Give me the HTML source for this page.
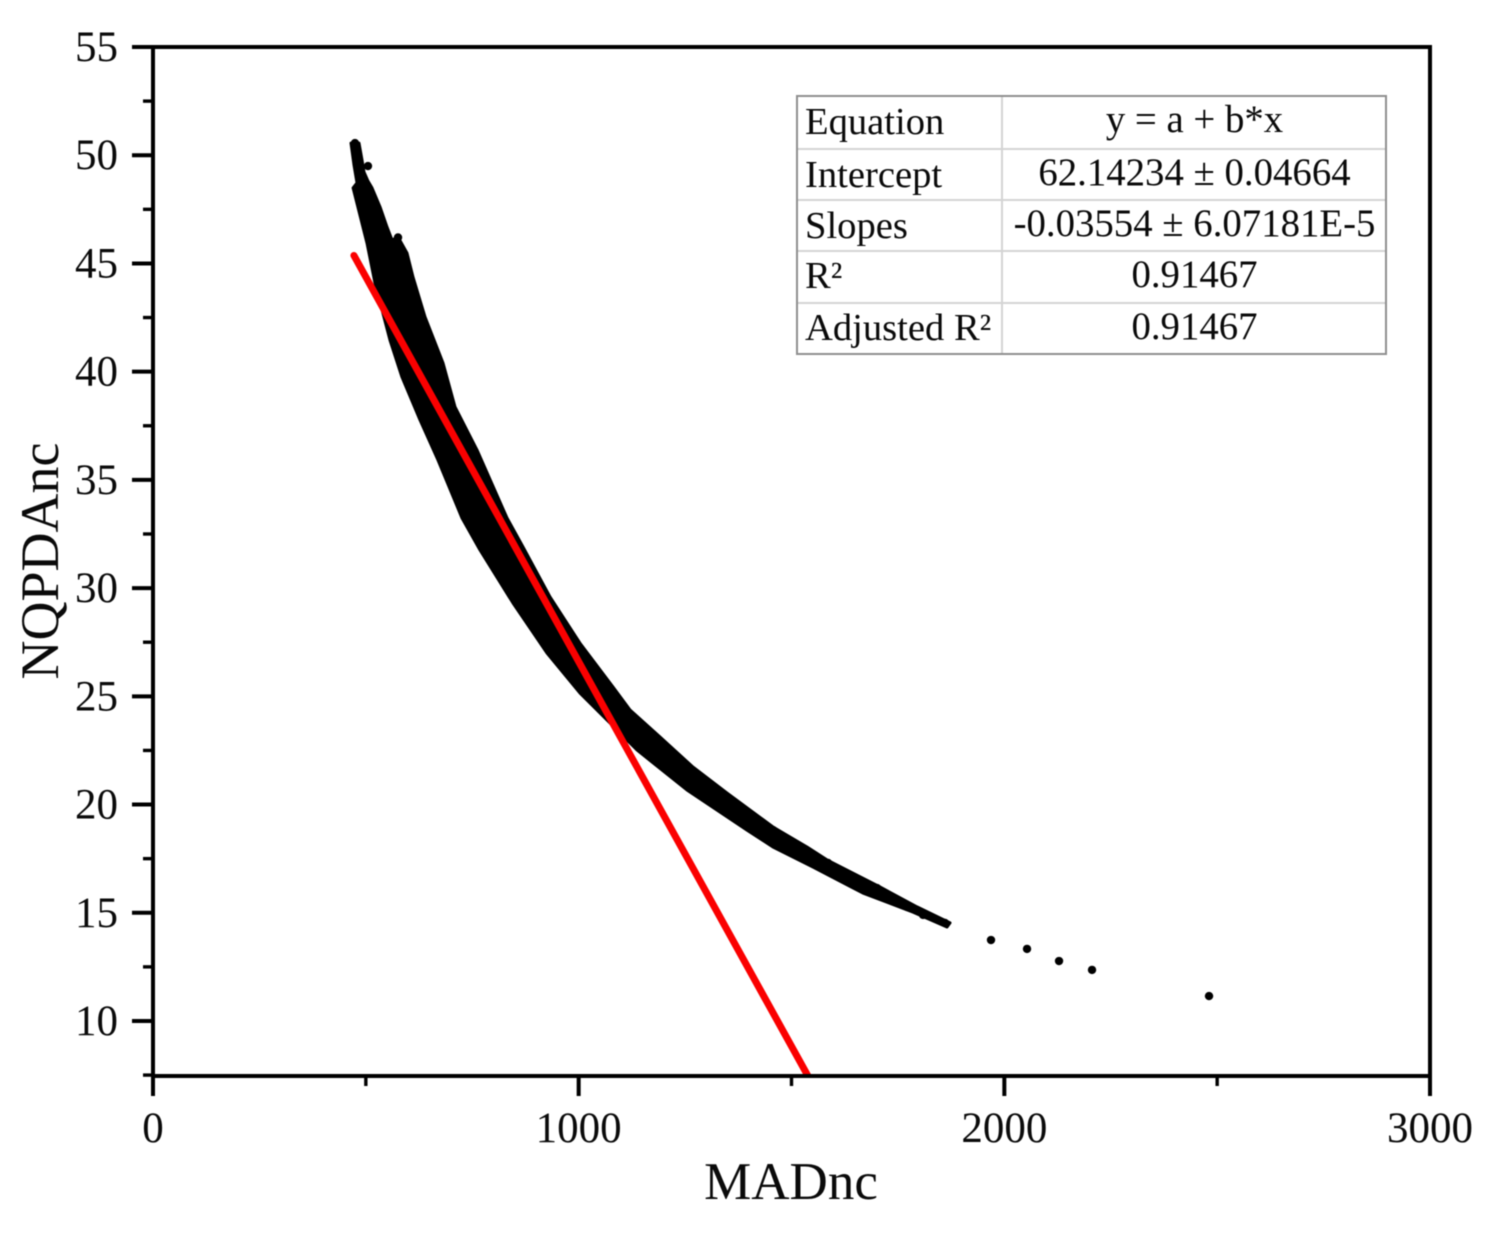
<!DOCTYPE html>
<html lang="en">
<head>
<meta charset="utf-8">
<title>NQPDAnc vs MADnc</title>
<style>
html,body{margin:0;padding:0;background:#fff;width:1499px;height:1233px;overflow:hidden}
svg{display:block;filter:blur(0.45px)}
text{font-family:"Liberation Serif","Times New Roman",serif;fill:#0a0a0a}
</style>
</head>
<body>
<svg id="chart" xmlns="http://www.w3.org/2000/svg" width="1499" height="1233" viewBox="0 0 1499 1233">
  <rect x="0" y="0" width="1499" height="1233" fill="#fff"/>
  <defs><clipPath id="plot-clip"><rect x="153" y="47" width="1277" height="1029"/></clipPath></defs>
  <g id="marks"></g>
  <g id="axes"></g>
  <text x="791" y="1199" font-size="53" text-anchor="middle">MADnc</text>
  <text transform="translate(58,561) rotate(-90)" font-size="54" text-anchor="middle">NQPDAnc</text>
  <g>
    <rect x="797" y="96" width="589" height="258" fill="#fff"/>
    <g stroke="#d4d4d4" stroke-width="2">
      <line x1="797" x2="1386" y1="149" y2="149"/>
      <line x1="797" x2="1386" y1="200" y2="200"/>
      <line x1="797" x2="1386" y1="251" y2="251"/>
      <line x1="797" x2="1386" y1="303" y2="303"/>
      <line x1="1002" x2="1002" y1="96" y2="354"/>
    </g>
    <rect x="797" y="96" width="589" height="258" fill="none" stroke="#8f8f8f" stroke-width="2"/>
    <g font-size="38.6">
      <text x="805" y="134">Equation</text>
      <text x="805" y="187">Intercept</text>
      <text x="805" y="238">Slopes</text>
      <text x="805" y="288">R²</text>
      <text x="805" y="340">Adjusted R²</text>
    </g>
    <g font-size="38.8" text-anchor="middle">
      <text x="1194.5" y="132">y = a + b*x</text>
      <text x="1194.5" y="185">62.14234 ± 0.04664</text>
      <text x="1194.5" y="236">-0.03554 ± 6.07181E-5</text>
      <text x="1194.5" y="287">0.91467</text>
      <text x="1194.5" y="339">0.91467</text>
    </g>
  </g>
</svg>
<script>
// Axis tick values
const xMajorTicks = [0, 1000, 2000, 3000];
const xMinorTicks = [500, 1500, 2500];
const yMajorTicks = [10, 15, 20, 25, 30, 35, 40, 45, 50, 55];
const yMinorTicks = [7.5, 12.5, 17.5, 22.5, 27.5, 32.5, 37.5, 42.5, 47.5, 52.5];

// Dense point cloud envelope, upper edge (MADnc, NQPDAnc)
const upperMad = [484, 491, 495.7, 505, 514.5, 533.3, 549.7, 561.5, 575.6, 596.7, 610.8, 639, 681.3, 709.5, 761.2, 831.7, 869.2, 932.7, 1003, 1080.7, 1120.6, 1191, 1268.6, 1348.5, 1456.6, 1536.4, 1583.4, 1707.9, 1794.9, 1872.4];
const upperNqpda = [50.56, 49.78, 49.22, 48.8, 48.49, 47.61, 46.68, 46.08, 46.22, 45.48, 44.37, 42.53, 40.4, 38.37, 36.38, 33.24, 31.9, 29.59, 27.46, 25.43, 24.37, 23.12, 21.73, 20.53, 18.96, 18.04, 17.44, 16.19, 15.27, 14.53];

// Dense point cloud envelope, lower edge (MADnc, NQPDAnc)
const lowerMad = [465.2, 472.2, 479.2, 470, 502.7, 521.5, 556.8, 585, 627.3, 669.5, 726, 768.2, 845.7, 925.6, 1003.2, 1073.6, 1137, 1254.5, 1395.5, 1456.6, 1550.5, 1668, 1785.4, 1865.3];
const lowerNqpda = [50.56, 49.55, 48.72, 48.49, 45.94, 44.1, 41.46, 39.75, 37.77, 35.92, 33.24, 31.76, 29.31, 27, 25.15, 23.77, 22.52, 20.67, 18.82, 18.04, 17.11, 15.91, 15.03, 14.34];

// Individually visible points
const pointMad = [474.5, 505, 575.6, 1456.6, 1489.5, 1531.7, 1585.8, 1625.7, 1700.9, 1724.4, 1771.4, 1809, 1860.6, 1968.7, 2053.3, 2128.5, 2206, 2480.9];
const pointNqpda = [50.56, 49.5, 46.2, 18.82, 18.27, 17.81, 17.3, 16.74, 16.14, 15.68, 15.27, 14.9, 14.53, 13.74, 13.33, 12.77, 12.36, 11.15];

// Linear fit
const fitIntercept = 62.14234;
const fitSlope = -0.03554;
const fitRange = [472, 1570];

const svgNS = 'http://www.w3.org/2000/svg';
const xScale = v => 153 + (v / 3000) * 1277;
const yScale = v => 47 + (55 - v) * 21.644;
const marks = document.getElementById('marks');
const axes = document.getElementById('axes');

function make(tag, attrs, parent) {
  const el = document.createElementNS(svgNS, tag);
  Object.keys(attrs).forEach(k => el.setAttribute(k, attrs[k]));
  parent.appendChild(el);
  return el;
}

// Point cloud envelope
const outline = [];
upperMad.forEach((m, i) => outline.push(xScale(m).toFixed(1) + ',' + yScale(upperNqpda[i]).toFixed(1)));
for (let i = lowerMad.length - 1; i >= 0; i--) {
  outline.push(xScale(lowerMad[i]).toFixed(1) + ',' + yScale(lowerNqpda[i]).toFixed(1));
}
const cloud = make('polygon', {points: outline.join(' '), fill: '#000', stroke: '#000', 'stroke-width': 3, 'stroke-linejoin': 'round'}, marks);



// Individual points
pointMad.forEach((m, i) => {
  const dot = make('circle', {cx: xScale(m), cy: yScale(pointNqpda[i]), r: 4.2, fill: '#000'}, marks);
  
  
});

// Fit line
const fitGroup = make('g', {'clip-path': 'url(#plot-clip)'}, marks);


const fitLine = make('line', {
  x1: xScale(fitRange[0]), y1: yScale(fitIntercept + fitSlope * fitRange[0]),
  x2: xScale(fitRange[1]), y2: yScale(fitIntercept + fitSlope * fitRange[1]),
  stroke: '#fa0000', 'stroke-width': 7, 'stroke-linecap': 'round'
}, fitGroup);



// Frame
const frame = make('rect', {x: 153, y: 47, width: 1277, height: 1029, fill: 'none', stroke: '#000', 'stroke-width': 4}, axes);



// X ticks
xMajorTicks.forEach(v => {
  const t = make('line', {x1: xScale(v), x2: xScale(v), y1: 1076, y2: 1096, stroke: '#000', 'stroke-width': 4}, axes);
  
  
  const label = make('text', {x: xScale(v), y: 1142, 'font-size': 43, 'text-anchor': 'middle'}, axes);
  
  
  label.textContent = String(v);
});
xMinorTicks.forEach(v => {
  const t = make('line', {x1: xScale(v), x2: xScale(v), y1: 1076, y2: 1086, stroke: '#000', 'stroke-width': 3.4}, axes);
  
  
});

// Y ticks
yMajorTicks.forEach(v => {
  const t = make('line', {x1: 132, x2: 153, y1: yScale(v), y2: yScale(v), stroke: '#000', 'stroke-width': 4}, axes);
  
  
  const label = make('text', {x: 118, y: yScale(v) + 14, 'font-size': 43, 'text-anchor': 'end'}, axes);
  
  
  label.textContent = String(v);
});
yMinorTicks.forEach(v => {
  const t = make('line', {x1: 143, x2: 153, y1: yScale(v), y2: yScale(v), stroke: '#000', 'stroke-width': 3.4}, axes);
  
  
});
</script>
</body>
</html>
